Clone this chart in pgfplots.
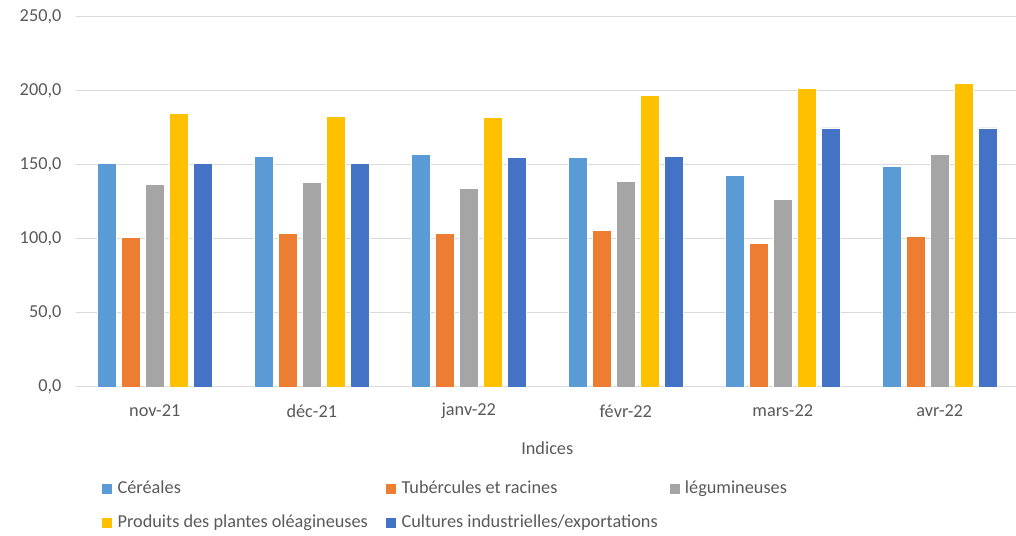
\documentclass[border=0pt]{standalone}
\usepackage{fontspec}
\setmainfont{Carlito}
\usepackage{pgfplots}
\pgfplotsset{compat=1.18}
\definecolor{cA}{HTML}{5B9BD5}
\definecolor{cB}{HTML}{ED7D31}
\definecolor{cC}{HTML}{A5A5A5}
\definecolor{cD}{HTML}{FFC000}
\definecolor{cE}{HTML}{4472C4}
\definecolor{gridc}{HTML}{D9D9D9}
\definecolor{txt}{HTML}{595959}
\newcommand\cf{\fontsize{13.7}{16.4}\selectfont}
\newcommand\mk[1]{\textcolor{#1}{\rule[-0.3pt]{7.5pt}{7.5pt}}\hspace{3.9pt}}
\begin{document}
\begin{tikzpicture}
\useasboundingbox (0,0) rectangle (762pt,401.25pt);
\begin{axis}[
  at={(57.2pt,111pt)}, anchor=south west,
  scale only axis, width=706.5pt, height=277.5pt,
  ybar=4.15pt, bar width=13.9pt,
  xmin=-0.5, xmax=5.5, ymin=0, ymax=250,
  xtick=data, xticklabels={nov-21,déc-21,janv-22,févr-22,mars-22,avr-22},
  ytick={0,50,100,150,200,250},
  ymajorgrids, grid style={gridc, line width=0.75pt},
  axis line style={draw=none},
  major tick length=0pt,
  tick label style={font=\cf, text=txt},
  /pgf/number format/assume math mode=true,
  /pgf/number format/fixed, /pgf/number format/fixed zerofill,
  /pgf/number format/precision=1, /pgf/number format/use comma,
  yticklabel style={inner sep=0pt, anchor=east, xshift=-11pt},
  xticklabel style={inner sep=0pt, anchor=center, yshift=-18pt},
  xlabel={Indices},
  xlabel style={font=\cf, text=txt, at={(axis description cs:0.5,0)}, anchor=center, yshift=-45.75pt},
  legend columns=3,
  legend style={at={(axis description cs:0.0278,-0.2456)}, anchor=north west,
    draw=none, fill=none, inner sep=0pt, outer sep=0pt, font=\cf, text=txt,
    row sep=9.6pt, column sep=0pt,
    nodes={inner sep=0pt, text height=11.48pt, text depth=4.92pt, anchor=west}},
  legend cell align=left,
  legend image code/.code={},
  every axis plot/.append style={draw=white, line width=0.4pt},
]
\addplot[fill=cA] coordinates {(0,151) (1,156) (2,157) (3,155) (4,143) (5,149)};
\addlegendentry{\makebox[213pt][l]{\mk{cA}Céréales}}
\addplot[fill=cB] coordinates {(0,101) (1,104) (2,104) (3,106) (4,97) (5,102)};
\addlegendentry{\makebox[212.5pt][l]{\mk{cB}Tubércules et racines}}
\addplot[fill=cC] coordinates {(0,137) (1,138) (2,134) (3,139) (4,127) (5,157)};
\addlegendentry{\mk{cC}légumineuses}
\addplot[fill=cD] coordinates {(0,185) (1,183) (2,182) (3,197) (4,202) (5,205)};
\addlegendentry{\makebox[213pt][l]{\mk{cD}Produits des plantes oléagineuses}}
\addplot[fill=cE] coordinates {(0,151) (1,151) (2,155) (3,156) (4,175) (5,175)};
\addlegendentry{\makebox[212.5pt][l]{\mk{cE}Cultures industrielles/exportations}}
\draw[gridc, line width=0.75pt] (rel axis cs:0,0) -- ++(0pt,-55pt);
\end{axis}
\end{tikzpicture}
\end{document}
